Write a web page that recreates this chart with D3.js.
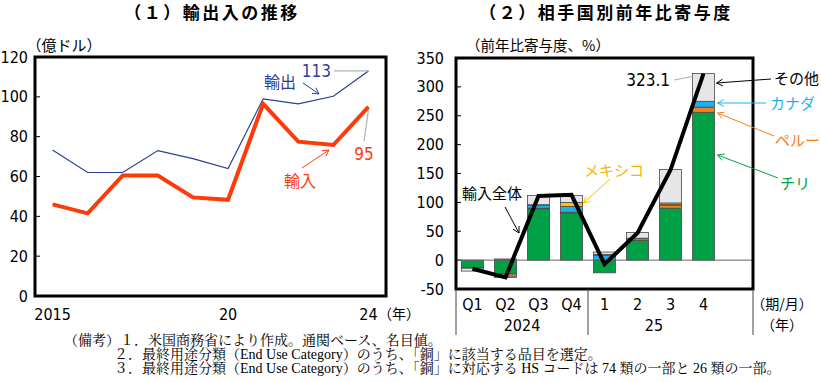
<!DOCTYPE html>
<html><head><meta charset="utf-8">
<script src="https://cdn.jsdelivr.net/npm/d3@7"></script>
<style>
body{margin:0;background:#fff}
svg{display:block}
.num{font-family:"Liberation Sans Narrow","DejaVu Sans Condensed","Arial Narrow",sans-serif}
.jp{font-family:"Noto Sans CJK JP",sans-serif}
.note{font-family:"Liberation Serif","Noto Serif CJK JP","Noto Sans CJK JP",serif}
</style></head><body>
<svg id="c" width="821" height="382"></svg>
<script>
// ---------- data: (1) exports / imports, 100 million USD ----------
const years = [2015, 2016, 2017, 2018, 2019, 2020, 2021, 2022, 2023, 2024];
const exportVals = [73.3, 62, 62, 73, 69, 64, 99, 96.5, 100.3, 113];
const importVals = [46, 41.5, 60.5, 60.5, 49.5, 48.3, 96.5, 77.5, 75.8, 95];
const leftYTicks = [0, 20, 40, 60, 80, 100, 120];
const leftXTickYears = [2015, 2020, 2024];
const leftXTickLabels = ["2015", "20", "24"];

// ---------- data: (2) contribution by partner, % ----------
const periods = ["Q1", "Q2", "Q3", "Q4", "1", "2", "3", "4"];
const yearGroups = [{label: "2024", from: "Q1", to: "Q4"}, {label: "25", from: "1", to: "4"}];
const chile  = [-13, -24, 89, 81, -22, 34, 90, 256];
const peru   = [-1, -4, 1, 2, 0, 3, 5, 9];
const canada = [0, 2, 5, 10, 8, 0, 1, 10];
const mexico = [0, 0, 1, 7, 2, 1, 3, 0];
const other  = [-5, -2, 16, 12, 4, 10, 58, 48];
const totalImports = [-15, -30, 111, 113, -7, 47, 156, 323.1];
const rightYTicks = [-50, 0, 50, 100, 150, 200, 250, 300, 350];
const seriesNames = ["チリ", "ペルー", "カナダ", "メキシコ", "その他"];
const seriesColors = ["#00a046", "#f58220", "#1ab2f0", "#ffc000", "#e6e6e6"];

const svg = d3.select("#c");

function arrow(g, x1, y1, x2, y2, color, w = 1, head = 7) {
  g.append("line").attr("x1", x1).attr("y1", y1).attr("x2", x2).attr("y2", y2)
    .attr("stroke", color).attr("stroke-width", w);
  const a = Math.atan2(y2 - y1, x2 - x1);
  [-0.5, 0.5].forEach(d => {
    g.append("line").attr("x1", x2).attr("y1", y2)
      .attr("x2", x2 - head * Math.cos(a + d)).attr("y2", y2 - head * Math.sin(a + d))
      .attr("stroke", color).attr("stroke-width", w);
  });
}

// ---------- titles ----------
svg.append("text").attr("class", "jp").attr("x", 212).attr("y", 19).attr("text-anchor", "middle")
  .attr("font-size", 17).attr("font-weight", "bold").attr("letter-spacing", 2.5).text("（１）輸出入の推移");
svg.append("text").attr("class", "jp").attr("x", 606).attr("y", 19).attr("text-anchor", "middle")
  .attr("font-size", 17).attr("font-weight", "bold").attr("letter-spacing", 2.5).text("（２）相手国別前年比寄与度");

// ---------- left chart ----------
const L = {x0: 35, x1: 386, y0: 57, y1: 296};
const xL = d3.scalePoint().domain(years).range([L.x0, L.x1]).padding(0.5);
const yL = d3.scaleLinear().domain([0, 120]).range([L.y1, L.y0]);
const gL = svg.append("g");

gL.append("text").attr("class", "jp").attr("x", 64).attr("y", 51).attr("text-anchor", "middle")
  .attr("font-size", 15).text("（億ドル）");

gL.selectAll(".ylab").data(leftYTicks).join("text").attr("class", "num")
  .attr("x", 28).attr("y", d => yL(d) + 5.5).attr("text-anchor", "end").attr("font-size", 16).text(d => d);
gL.selectAll(".ytk").data(leftYTicks).join("line")
  .attr("x1", L.x0).attr("x2", L.x0 + 5).attr("y1", d => yL(d)).attr("y2", d => yL(d))
  .attr("stroke", "#000").attr("stroke-width", 1);
gL.selectAll(".xlab").data(leftXTickYears).join("text").attr("class", "num")
  .attr("x", d => xL(d)).attr("y", 320).attr("text-anchor", "middle").attr("font-size", 16)
  .text((d, i) => leftXTickLabels[i]);
gL.append("text").attr("class", "jp").attr("x", 378).attr("y", 319).attr("font-size", 14).text("（年）");

const lineL = (vals) => d3.line().x((d, i) => xL(years[i])).y(d => yL(d))(vals);
gL.append("path").attr("d", lineL(exportVals)).attr("fill", "none").attr("stroke", "#2b3d98").attr("stroke-width", 1.2);
gL.append("path").attr("d", lineL(importVals)).attr("fill", "none").attr("stroke", "#ff3a0a").attr("stroke-width", 4).attr("stroke-linejoin", "miter");

gL.append("rect").attr("x", L.x0).attr("y", L.y0).attr("width", L.x1 - L.x0).attr("height", L.y1 - L.y0)
  .attr("fill", "none").attr("stroke", "#000").attr("stroke-width", 3);

// annotations
const last = years[years.length - 1];
gL.append("line").attr("x1", 334).attr("y1", yL(113)).attr("x2", xL(last)).attr("y2", yL(113)).attr("stroke", "#b0b0b0").attr("stroke-width", 1.2);
gL.append("text").attr("class", "num").attr("x", 331).attr("y", yL(113) + 6).attr("text-anchor", "end")
  .attr("font-size", 17).attr("fill", "#2b3d98").text("113");
gL.append("text").attr("class", "jp").attr("x", 264).attr("y", 88).attr("font-size", 16).attr("fill", "#2b3d98").text("輸出");
arrow(gL, 303, 83, 319, 94, "#2b3d98", 1, 7);

gL.append("line").attr("x1", 364).attr("y1", 141).attr("x2", xL(last)).attr("y2", yL(95) + 3).attr("stroke", "#b0b0b0").attr("stroke-width", 1.2);
gL.append("text").attr("class", "num").attr("x", 364).attr("y", 160).attr("text-anchor", "middle")
  .attr("font-size", 17).attr("fill", "#ff3a0a").text("95");
gL.append("text").attr("class", "jp").attr("x", 284).attr("y", 187).attr("font-size", 16).attr("fill", "#ff3a0a").text("輸入");
arrow(gL, 302, 168, 329, 150, "#ff3a0a", 1, 7);

// ---------- right chart ----------
const R = {x0: 456, x1: 753, y0: 58, y1: 289};
const xR = d3.scaleBand().domain(periods.concat(["_pad"])).range([R.x0, R.x1]).paddingInner(0.33).paddingOuter(0.165);
const yR = d3.scaleLinear().domain([-50, 350]).range([R.y1, R.y0]);
const gR = svg.append("g");
const cx = p => xR(p) + xR.bandwidth() / 2;

gR.append("text").attr("class", "jp").attr("x", 538).attr("y", 51).attr("text-anchor", "middle")
  .attr("font-size", 14.5).text("（前年比寄与度、%）");

gR.selectAll(".ylab").data(rightYTicks).join("text").attr("class", "num")
  .attr("x", 444).attr("y", d => yR(d) + 5.5).attr("text-anchor", "end").attr("font-size", 16).text(d => d);
gR.selectAll(".ytk").data(rightYTicks).join("line")
  .attr("x1", R.x0).attr("x2", R.x0 + 5).attr("y1", d => yR(d)).attr("y2", d => yR(d))
  .attr("stroke", "#000").attr("stroke-width", 1);

// stacked bars
const table = periods.map((p, i) => ({p, "チリ": chile[i], "ペルー": peru[i], "カナダ": canada[i], "メキシコ": mexico[i], "その他": other[i]}));
const stack = d3.stack().keys(seriesNames).offset(d3.stackOffsetDiverging)(table);
gR.selectAll(".ser").data(stack).join("g").attr("fill", (d, i) => seriesColors[i])
  .selectAll("rect").data(d => d.filter(s => s[1] !== s[0])).join("rect")
  .attr("x", d => xR(d.data.p)).attr("width", xR.bandwidth())
  .attr("y", d => yR(Math.max(d[0], d[1]))).attr("height", d => Math.abs(yR(d[0]) - yR(d[1])))
  .attr("stroke", "#4a4a4a").attr("stroke-width", 0.8);

// zero line
gR.append("line").attr("x1", R.x0).attr("x2", R.x1).attr("y1", yR(0)).attr("y2", yR(0)).attr("stroke", "#666").attr("stroke-width", 1);

// total line
gR.append("path").attr("d", d3.line().x((d, i) => cx(periods[i])).y(d => yR(d))(totalImports))
  .attr("fill", "none").attr("stroke", "#000").attr("stroke-width", 4);

gR.append("rect").attr("x", R.x0).attr("y", R.y0).attr("width", R.x1 - R.x0).attr("height", R.y1 - R.y0)
  .attr("fill", "none").attr("stroke", "#000").attr("stroke-width", 3);

// category axis
gR.selectAll(".xlab").data(periods).join("text").attr("class", "num")
  .attr("x", d => cx(d)).attr("y", 310).attr("text-anchor", "middle").attr("font-size", 16).text(d => d);
const sepXs = [R.x0, (xR("Q4") + xR.bandwidth() + xR("1")) / 2, R.x1];
gR.selectAll(".sep").data(sepXs).join("line").attr("x1", d => d).attr("x2", d => d)
  .attr("y1", R.y1).attr("y2", 335).attr("stroke", "#444").attr("stroke-width", 1);
gR.selectAll(".ylbl").data(yearGroups).join("text").attr("class", "num")
  .attr("x", d => (cx(d.from) + cx(d.to)) / 2).attr("y", 331).attr("text-anchor", "middle").attr("font-size", 16).text(d => d.label);
gR.append("text").attr("class", "jp").attr("x", 782).attr("y", 309).attr("text-anchor", "middle").attr("font-size", 14).text("（期/月）");
gR.append("text").attr("class", "jp").attr("x", 782).attr("y", 330).attr("text-anchor", "middle").attr("font-size", 14).text("（年）");

// right annotations
const b4 = xR("4") + xR.bandwidth();
gR.append("text").attr("class", "num").attr("x", 670).attr("y", yR(323.1) + 12).attr("text-anchor", "end").attr("font-size", 17).text("323.1");
gR.append("line").attr("x1", 674).attr("y1", 80).attr("x2", xR("4")).attr("y2", yR(323.1) + 3).attr("stroke", "#b0b0b0").attr("stroke-width", 1.2);

gR.append("text").attr("class", "jp").attr("x", 774).attr("y", 84).attr("font-size", 15).attr("fill", "#000").text("その他");
arrow(gR, 771, 79, b4 + 2, 83, "#000", 1, 7);
gR.append("text").attr("class", "jp").attr("x", 770).attr("y", 109).attr("font-size", 15).attr("fill", "#1ab2f0").text("カナダ");
arrow(gR, 766, 103, b4 + 3, 103, "#1ab2f0", 1, 7);
gR.append("text").attr("class", "jp").attr("x", 775).attr("y", 146).attr("font-size", 15).attr("fill", "#f58220").text("ペルー");
arrow(gR, 774, 136, b4 + 3, 113, "#f58220", 1, 7);
gR.append("text").attr("class", "jp").attr("x", 780).attr("y", 189).attr("font-size", 15).attr("fill", "#00a046").text("チリ");
arrow(gR, 778, 178, b4 + 3, 155, "#00a046", 1, 7);
gR.append("text").attr("class", "jp").attr("x", 584).attr("y", 176).attr("font-size", 15).attr("fill", "#f7b500").text("メキシコ");
arrow(gR, 610, 179, xR("Q4") + xR.bandwidth() + 1, 203, "#ffc000", 1, 7);
gR.append("text").attr("class", "jp").attr("x", 462).attr("y", 199).attr("font-size", 15).attr("fill", "#000").text("輸入全体");
arrow(gR, 505, 207, 519, 233, "#000", 1, 7);

// ---------- notes ----------
const notes = [
  {x: 64, t: "（備考）１．米国商務省により作成。通関ベース、名目値。"},
  {x: 114, t: "２．最終用途分類（End Use Category）のうち、「銅」に該当する品目を選定。"},
  {x: 114, t: "３．最終用途分類（End Use Category）のうち、「銅」に対応する HS コードは 74 類の一部と 26 類の一部。"}
];
svg.selectAll(".note").data(notes).join("text").attr("class", "note")
  .attr("x", d => d.x).attr("y", (d, i) => 345 + i * 14.2).attr("font-size", 14).text(d => d.t);
</script>
</body></html>
